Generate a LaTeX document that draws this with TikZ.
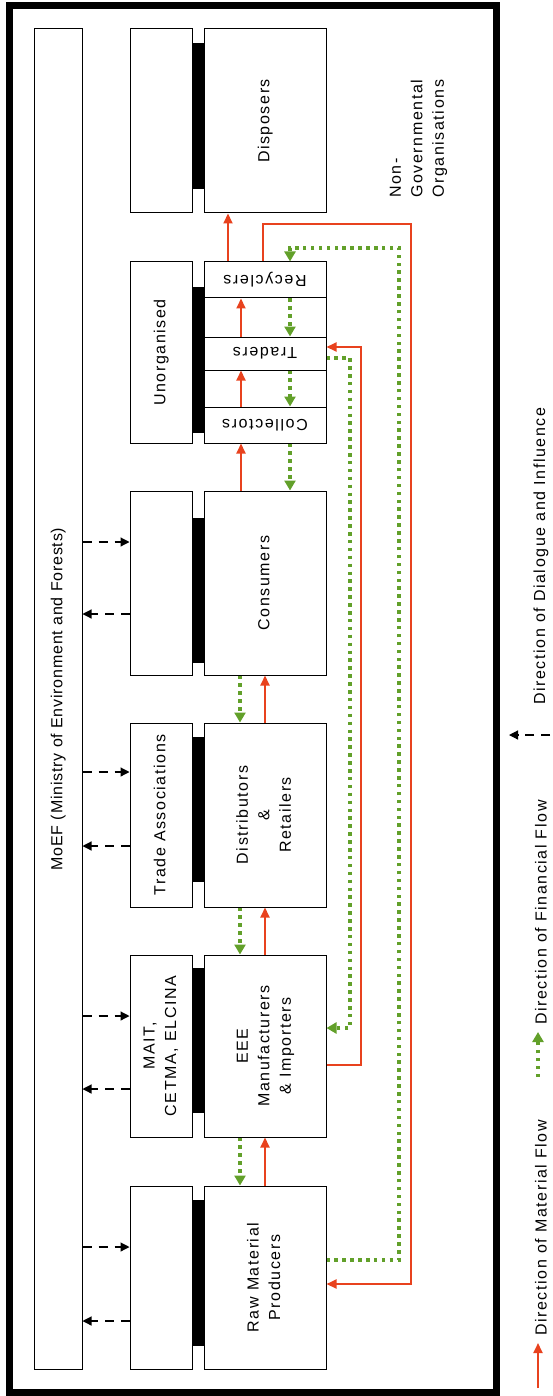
\documentclass[tikz,border=0pt]{standalone}
\usepackage{fontspec}
\usepackage{graphicx}
\setmainfont{Liberation Sans}[LetterSpace=10]
\usetikzlibrary{arrows.meta}
\definecolor{matred}{RGB}{232,66,30}
\definecolor{fingreen}{RGB}{98,160,42}
\newcommand{\vtxt}[2][c]{\rotatebox{90}{\begin{tabular}{@{}#1@{}}#2\end{tabular}}}
\tikzset{
  box/.style={draw, line width=1pt, inner sep=0pt},
  rbox/.style={box, minimum width=122pt},
  lbox/.style={box, minimum width=62pt},
  mat/.style={matred, line width=2pt, -{Triangle[length=10pt,width=9pt]}},
  fin/.style={fingreen, line width=3.5pt, dash pattern=on 3.5pt off 4.4pt, -{Triangle[length=10pt,width=11pt]}},
  dlg/.style={line width=1.2pt, dash pattern=on 9pt off 7pt, -{Triangle[length=9pt,width=9pt]}},
}
\begin{document}
\begin{tikzpicture}[x=1pt, y=-1pt, font=\fontsize{16}{21.5}\selectfont]
  \useasboundingbox (0,0) rectangle (553,1396);
  \draw[line width=7pt] (9,5.5) rectangle (496.5,1392);
  \node[box, minimum width=48pt, minimum height=1340pt] (moef) at (58,699)
    {\addfontfeature{LetterSpace=5}\vtxt{MoEF (Ministry of Environment and Forests)}};
  % stakeholder boxes
  \node[lbox, minimum height=184pt] (dspL) at (161,121) {};
  \node[lbox, minimum height=181pt] (unoL) at (161,352.5) {\vtxt{Unorganised}};
  \node[lbox, minimum height=184pt] (conL) at (161,583) {};
  \node[lbox, minimum height=184pt] (assocL) at (161,815) {\vtxt{Trade Associations}};
  \node[lbox, minimum height=182pt] (maitL) at (161,1046) {\vtxt{MAIT,\\CETMA, ELCINA}};
  \node[lbox, minimum height=183pt] (rawL) at (161,1277.5) {};
  \foreach \ya/\yb in {43/189, 287/433, 518/663, 737/882, 968/1113, 1200/1346}
    \fill (192,\ya) rectangle (204,\yb);
  % chain
  \node[rbox, minimum height=184pt] (dsp) at (265,121) {\vtxt{Disposers}};
  \node[rbox, minimum height=36pt] (rec) at (265,280) {\rotatebox{180}{Recyclers}};
  \node[rbox, minimum height=39pt] (gapA) at (265,317.5) {};
  \node[rbox, minimum height=33pt] (trd) at (265,353.5) {\rotatebox{180}{Traders}};
  \node[rbox, minimum height=37pt] (gapB) at (265,388.5) {};
  \node[rbox, minimum height=36pt] (col) at (265,425) {\rotatebox{180}{Collectors}};
  \node[rbox, minimum height=184pt] (con) at (265,583) {\vtxt{Consumers}};
  \node[rbox, minimum height=184pt] (dist) at (265,815) {\vtxt{Distributors\\\&\\Retailers}};
  \node[rbox, minimum height=182pt] (eee) at (265,1046) {\vtxt{EEE\\Manufacturers\\\& Importers}};
  \node[rbox, minimum height=183pt] (raw) at (265,1277.5) {\vtxt{Raw Material\\Producers}};
  \node[inner sep=0pt, anchor=south] (ngo) at (418,198) {\vtxt[l]{Non-\\Governmental\\Organisations}};
  % material and money
  \draw[mat] (raw.north) -- (eee.south);
  \draw[mat] (eee.north) -- (dist.south);
  \draw[mat] (dist.north) -- (con.south);
  \draw[fin] ([xshift=-25pt]eee.south) -- ([xshift=-25pt]raw.north);
  \draw[fin] ([xshift=-25pt]dist.south) -- ([xshift=-25pt]eee.north);
  \draw[fin] ([xshift=-25pt]con.south) -- ([xshift=-25pt]dist.north);
  \draw[mat] ([xshift=-24pt]con.north) -- ([xshift=-24pt]col.south);
  \draw[mat] ([xshift=-24pt]col.north) -- ([xshift=-24pt]trd.south);
  \draw[mat] ([xshift=-24pt]trd.north) -- ([xshift=-24pt]rec.south);
  \draw[fin] ([xshift=25pt]col.south) -- ([xshift=25pt]con.north);
  \draw[fin] ([xshift=25pt]trd.south) -- ([xshift=25pt]col.north);
  \draw[fin] ([xshift=25pt]rec.south) -- ([xshift=25pt]trd.north);
  \draw[mat] ([xshift=-37pt]rec.north) -- ([xshift=-37pt]dsp.south);
  \coordinate (loopR) at (411,224);
  \coordinate (loopG) at (399,248);
  \coordinate (trdR) at (361,347);
  \coordinate (trdG) at (350,1028);
  \draw[mat] ([xshift=-2pt]rec.north) |- (loopR) |- ([yshift=-6.5pt]raw.east);
  \draw[fin] ([yshift=17.5pt]raw.east) -| (loopG) -| ([xshift=25pt]rec.north);
  \draw[mat] ([yshift=-19pt]eee.east) -| (trdR) -- ([yshift=6.5pt]trd.east);
  \draw[fin] ([yshift=-4.5pt]trd.east) -| (trdG) -- ([yshift=18pt]eee.east);
  % dialogue
  \draw[dlg] ([yshift=41pt]conL.west -| moef.east) -- ([yshift=41pt]conL.west);
  \draw[dlg] ([yshift=-31pt]conL.west) -- ([yshift=-31pt]conL.west -| moef.east);
  \draw[dlg] ([yshift=43pt]assocL.west -| moef.east) -- ([yshift=43pt]assocL.west);
  \draw[dlg] ([yshift=-31pt]assocL.west) -- ([yshift=-31pt]assocL.west -| moef.east);
  \draw[dlg] ([yshift=30pt]maitL.west -| moef.east) -- ([yshift=30pt]maitL.west);
  \draw[dlg] ([yshift=-43pt]maitL.west) -- ([yshift=-43pt]maitL.west -| moef.east);
  \draw[dlg] ([yshift=30.5pt]rawL.west -| moef.east) -- ([yshift=30.5pt]rawL.west);
  \draw[dlg] ([yshift=-43.5pt]rawL.west) -- ([yshift=-43.5pt]rawL.west -| moef.east);
  % legend
  \coordinate (lgMa) at (538,1388); \coordinate (lgMb) at (538,1343);
  \coordinate (lgFa) at (538,1077); \coordinate (lgFb) at (538,1032);
  \coordinate (lgDa) at (550,735); \coordinate (lgDb) at (509,735);
  \draw[mat] (lgMa) -- (lgMb);
  \draw[fin] (lgFa) -- (lgFb);
  \draw[dlg] (lgDa) -- (lgDb);
  \node[inner sep=0pt, anchor=south] (lgMat) at (541,1336) {\rotatebox{90}{Direction of Material Flow}};
  \node[inner sep=0pt, anchor=south] (lgFin) at (541,1025) {\rotatebox{90}{Direction of Financial Flow}};
  \node[inner sep=0pt, anchor=south] (lgDlg) at (541,705) {\rotatebox{90}{Direction of Dialogue and Influence}};
\end{tikzpicture}
\end{document}
